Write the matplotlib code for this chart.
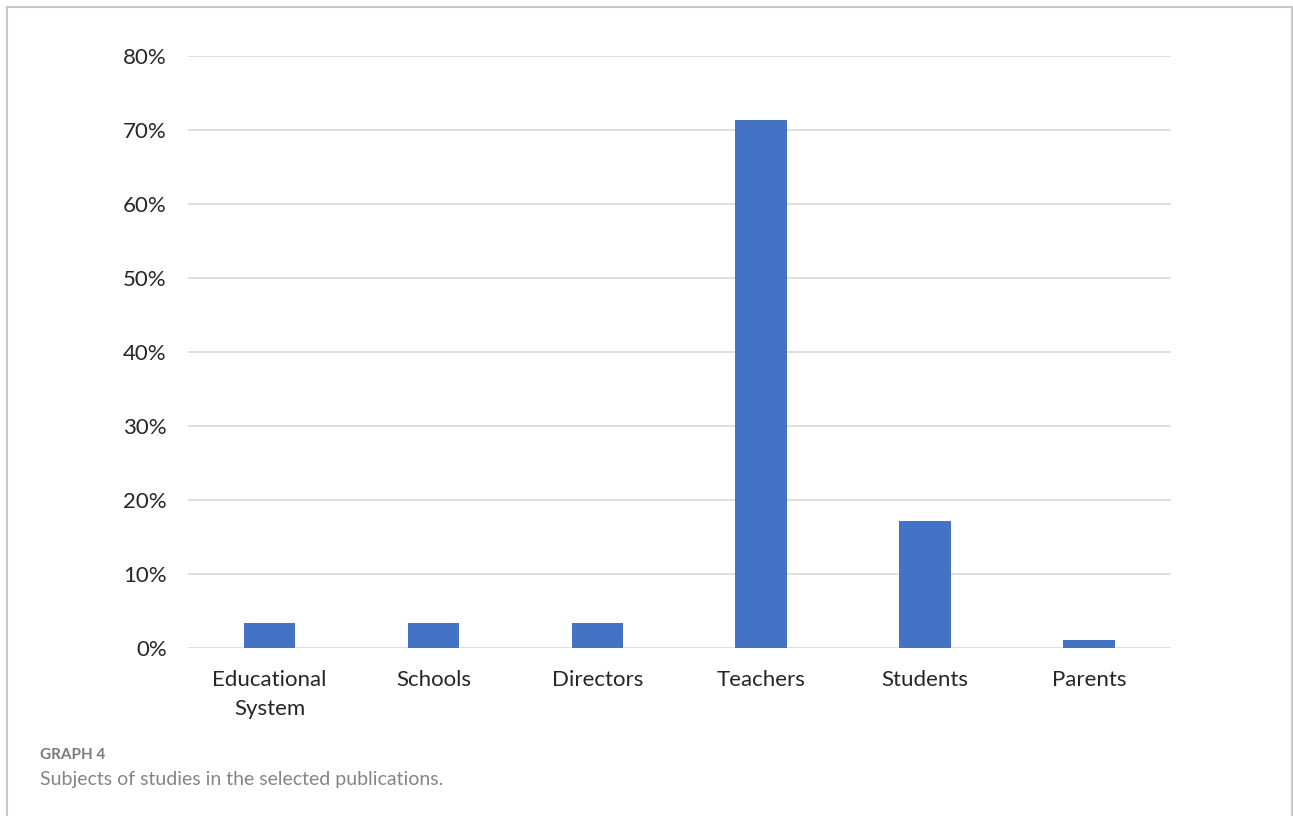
import matplotlib.pyplot as plt
from matplotlib.lines import Line2D
from matplotlib.ticker import FuncFormatter

categories = ['Educational\nSystem', 'Schools', 'Directors',
              'Teachers', 'Students', 'Parents']
shares = [3.4, 3.4, 3.4, 71.4, 17.1, 1.1]
y_ticks = [0, 10, 20, 30, 40, 50, 60, 70, 80]

W, H = 1293, 816
fig = plt.figure(figsize=(W / 100, H / 100), dpi=100)
fig.patch.set_facecolor('white')

# plot area in pixels
left, right, top, bottom = 187.5, 1171, 56, 648
ax = fig.add_axes([left / W, 1 - bottom / H,
                   (right - left) / W, (bottom - top) / H])

x = range(len(categories))
ax.bar(x, shares, width=0.314, color='#4472C4', zorder=3)

ax.set_xlim(-0.5, len(categories) - 0.5)
ax.set_ylim(0, 80)
ax.set_yticks(y_ticks)
ax.yaxis.set_major_formatter(FuncFormatter(lambda v, p: f'{v:.0f}%'))
ax.set_xticks(list(x))
ax.set_xticklabels(categories, fontsize=16, family='Lato',
                   color='#262626', linespacing=1.55)
for lab in ax.get_yticklabels():
    lab.set_fontsize(16)
    lab.set_family('Lato')
    lab.set_color('#262626')

ax.grid(axis='y', color='#D9D9D9', linewidth=1.2, zorder=0)
ax.tick_params(axis='both', length=0)
ax.tick_params(axis='y', pad=15)
ax.tick_params(axis='x', pad=16)
for s in ax.spines.values():
    s.set_visible(False)

# frame around the figure (open at the bottom)
fc = '#C8C8C8'
fig.add_artist(Line2D([7 / W, 7 / W], [0, 1 - 7 / H],
                      transform=fig.transFigure, color=fc, lw=1.5))
fig.add_artist(Line2D([7 / W, 1292 / W], [1 - 7 / H, 1 - 7 / H],
                      transform=fig.transFigure, color=fc, lw=1.5))
fig.add_artist(Line2D([1292 / W, 1292 / W], [0, 1 - 7 / H],
                      transform=fig.transFigure, color=fc, lw=1.5))

fig.text(40 / W, 1 - 755 / H, 'GRAPH 4', fontsize=11, family='Lato',
         fontweight='bold', color='#7A7A7A', va='center', ha='left')
fig.text(40 / W, 1 - 780 / H, 'Subjects of studies in the selected publications.',
         fontsize=14, family='Lato', color='#858585', va='center', ha='left')

fig.savefig('out.png', dpi=100)
plt.close(fig)
